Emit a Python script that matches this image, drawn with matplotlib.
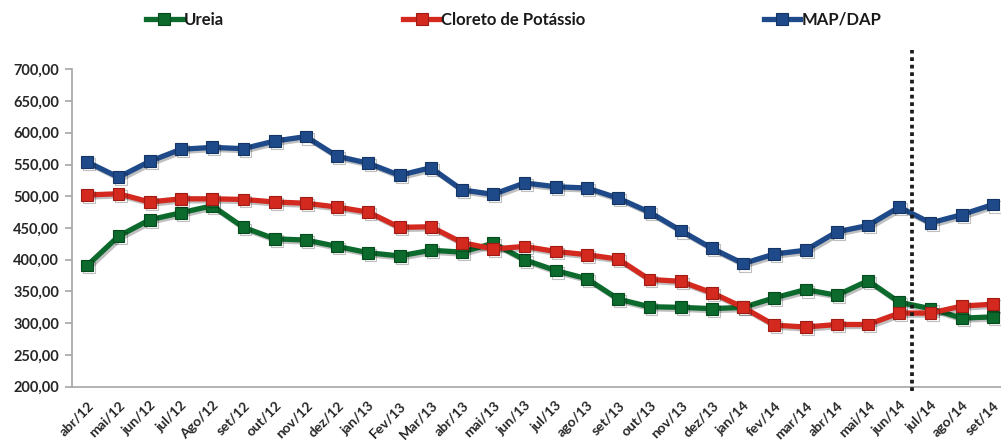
import matplotlib
matplotlib.use("Agg")
import matplotlib.pyplot as plt
import matplotlib.patheffects as pe
from matplotlib.ticker import FuncFormatter, MultipleLocator
from matplotlib.lines import Line2D

categories = ["abr/12", "mai/12", "jun/12", "jul/12", "Ago/12", "set/12", "out/12",
              "nov/12", "dez/12", "jan/13", "Fev/13", "Mar/13", "abr/13", "mai/13",
              "jun/13", "jul/13", "ago/13", "set/13", "out/13", "nov/13", "dez/13",
              "jan/14", "fev/14", "mar/14", "abr/14", "mai/14", "jun/14", "jul/14",
              "ago/14", "set/14"]

ureia = [391, 437, 463, 474, 485, 451, 433, 431, 421, 411, 406, 415, 412, 426,
         400, 383, 370, 338, 326, 325, 323, 325, 340, 353, 344, 367, 333, 323,
         308, 310]
cloreto = [502, 504, 491, 496, 496, 495, 491, 489, 483, 475, 451, 452, 427, 417,
           421, 413, 408, 401, 369, 366, 348, 325, 297, 294, 298, 298, 316, 316,
           327, 330]
map_dap = [554, 530, 555, 574, 577, 575, 587, 594, 563, 552, 533, 545, 510, 503,
           521, 515, 513, 497, 475, 446, 418, 394, 409, 415, 444, 454, 483, 458,
           471, 487]

series_names = ["Ureia", "Cloreto de Potássio", "MAP/DAP"]
colors = ["#0C6A2D", "#D3291F", "#1F4A8A"]
edge_colors = ["#074A1E", "#9E1C14", "#143463"]
marker_line_x = 26.4

font = ["Lato", "DejaVu Sans"]
plt.rcParams["font.family"] = font
plt.rcParams["font.weight"] = "bold"

fig = plt.figure(figsize=(10.01, 4.42), dpi=100)
ax = fig.add_axes([0.0716, 0.1251, 0.936, 0.7181])

x = list(range(len(categories)))
shadow = [pe.SimpleLineShadow(offset=(1.5, -1.5), alpha=0.25, shadow_color="black"), pe.Normal()]
for vals, c, ec in zip([ureia, cloreto, map_dap], colors, edge_colors):
    ax.plot(x, vals, color=c, lw=3.8, marker="s", ms=8.5, mfc=c, mec=ec, mew=0.8,
            solid_joinstyle="round", path_effects=shadow, zorder=3)

ax.set_xlim(-0.5, len(categories) - 0.5)
ax.set_ylim(200, 700)
ax.yaxis.set_major_locator(MultipleLocator(50))
ax.yaxis.set_major_formatter(FuncFormatter(lambda v, p: f"{v:.2f}".replace(".", ",")))
ax.set_xticks(x)
ax.set_xticklabels(categories, rotation=45, ha="right", rotation_mode="anchor")

for s in ["top", "right"]:
    ax.spines[s].set_visible(False)
for s in ["left", "bottom"]:
    ax.spines[s].set_color("#A6A6A6")
    ax.spines[s].set_linewidth(1.2)
ax.tick_params(axis="y", length=5, color="#A6A6A6", width=1.2, labelsize=10.5,
               labelcolor="#262626", pad=4)
ax.tick_params(axis="x", length=0, labelsize=10, labelcolor="#262626", pad=9)
for lab in ax.get_xticklabels() + ax.get_yticklabels():
    lab.set_fontweight("bold")

ax.axvline(marker_line_x, ymin=-0.012, ymax=1.062, color="#1A1A1A", lw=2.7,
           linestyle=(0, (1, 1)), clip_on=False, zorder=4)

handles = [Line2D([0], [0], color=c, lw=3.8, marker="s", ms=8, mfc=c, mec=ec, mew=0.8)
           for c, ec in zip(colors, edge_colors)]
legend_x = [0.146, 0.403, 0.763]
for h, name, lx in zip(handles, series_names, legend_x):
    leg = fig.legend([h], [name], loc="center left", bbox_to_anchor=(lx, 0.955),
                     frameon=False, handlelength=2.2, handletextpad=0.05, borderpad=0,
                     borderaxespad=0, prop={"weight": "bold", "size": 12})
    for t in leg.get_texts():
        t.set_color("#1A1A1A")

fig.savefig("out.png", dpi=100)
